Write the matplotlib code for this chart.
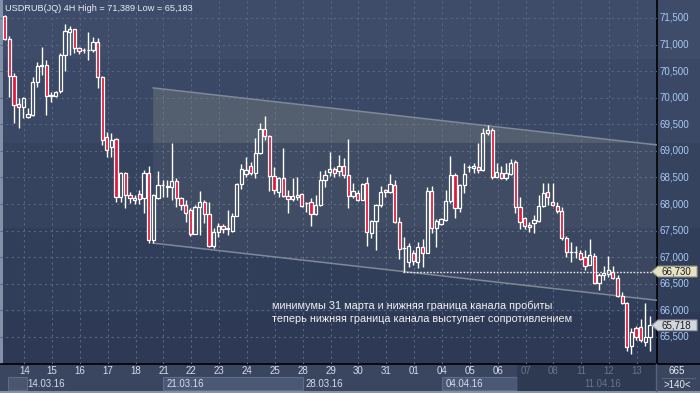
import numpy as np
import matplotlib
matplotlib.use('Agg')
import matplotlib.pyplot as plt
from matplotlib.patches import Rectangle, Polygon
from matplotlib.transforms import blended_transform_factory

# ---------------- data ----------------
opens = [71.537, 71.105, 70.409, 69.883, 69.826, 69.638, 69.676, 70.296, 70.597, 70.616,
         70.052, 70.033, 70.127, 70.804, 71.236, 71.293, 70.936, 70.898, 70.890, 70.898,
         71.048, 70.390, 69.262, 69.074, 69.225, 68.134, 68.586, 68.172, 68.078, 68.191,
         68.116, 68.586, 67.326, 68.116, 68.360, 68.322, 68.322, 68.435, 68.116, 67.984,
         67.890, 67.439, 67.946, 68.040, 67.815, 67.213, 67.476, 67.589, 67.533, 67.495,
         67.777, 68.379, 68.567, 68.717, 68.586, 68.962, 69.413, 69.281, 68.529, 68.228,
         68.492, 68.153, 68.097, 68.134, 68.191, 68.022, 68.040, 67.815, 67.984, 68.454,
         68.604, 68.661, 68.623, 68.717, 68.548, 68.153, 68.210, 68.078, 68.398, 67.458,
         67.683, 67.984, 68.266, 68.228, 68.360, 67.664, 67.176, 66.912, 67.082, 66.912,
         67.194, 67.082, 68.247, 67.552, 67.627, 67.702, 68.059, 68.548, 67.928, 68.360,
         68.698, 68.680, 68.698, 68.642, 69.338, 69.394, 68.510, 68.586, 68.492, 68.567,
         68.792, 67.946, 67.740, 67.608, 67.646, 67.683, 67.965, 68.228, 68.040, 67.965,
         67.871, 67.364, 67.100, 67.100, 67.082, 67.006, 66.856, 67.025, 66.518, 66.668,
         66.687, 66.724, 66.612, 66.273, 66.142, 65.333, 65.672, 65.690, 65.408, 65.502]
highs = [71.560, 71.161, 70.466, 69.996, 70.010, 69.808, 70.390, 70.672, 70.954, 70.710,
         70.108, 70.127, 70.842, 71.389, 71.349, 71.300, 70.954, 70.936, 71.236, 71.142,
         71.124, 70.400, 69.356, 69.338, 69.240, 68.604, 68.604, 68.228, 68.172, 68.266,
         68.642, 68.717, 68.180, 68.623, 68.454, 68.454, 69.150, 68.492, 68.134, 68.078,
         67.928, 67.984, 68.247, 68.078, 68.040, 67.552, 67.646, 67.627, 67.890, 67.834,
         68.398, 68.755, 68.886, 68.792, 69.244, 69.526, 69.657, 69.290, 68.698, 68.500,
         69.056, 68.266, 68.492, 68.510, 68.210, 68.040, 68.116, 68.172, 68.623, 68.642,
         68.980, 68.698, 68.924, 68.868, 69.225, 68.398, 68.266, 68.390, 68.510, 67.700,
         68.003, 68.341, 68.285, 68.567, 68.454, 67.759, 67.382, 67.270, 67.138, 67.288,
         67.345, 68.322, 68.341, 67.721, 67.740, 68.266, 68.905, 68.586, 68.370, 68.774,
         68.736, 68.774, 69.150, 69.432, 69.488, 69.432, 68.774, 68.717, 68.774, 68.849,
         68.830, 68.134, 67.759, 67.664, 67.796, 68.172, 68.398, 68.398, 68.398, 68.040,
         67.946, 67.401, 67.288, 67.213, 67.138, 67.138, 67.345, 67.082, 66.706, 66.837,
         67.025, 66.837, 66.668, 66.348, 66.150, 65.672, 65.709, 65.830, 66.142, 65.897]
lows = [71.086, 70.014, 69.526, 69.432, 69.620, 69.620, 69.660, 70.202, 70.428, 69.676,
        69.920, 70.014, 70.090, 70.503, 70.804, 70.842, 70.823, 70.842, 70.710, 70.860,
        70.184, 69.112, 68.886, 68.886, 68.040, 68.040, 67.928, 68.022, 68.003, 68.003,
        67.834, 67.270, 67.270, 68.100, 68.134, 68.134, 68.078, 67.946, 67.890, 67.664,
        67.401, 67.430, 67.420, 67.646, 67.200, 67.176, 67.382, 67.458, 67.420, 67.480,
        67.770, 68.285, 68.510, 68.548, 68.492, 68.950, 69.206, 68.247, 68.191, 68.134,
        68.134, 67.834, 68.059, 68.078, 67.946, 67.852, 67.589, 67.796, 67.965, 68.322,
        68.529, 68.510, 68.529, 68.492, 67.928, 68.116, 68.059, 68.070, 67.213, 67.364,
        67.138, 67.946, 68.134, 68.210, 67.646, 66.969, 66.730, 66.818, 66.856, 66.800,
        66.818, 67.070, 67.458, 67.194, 67.608, 67.683, 68.022, 67.740, 67.852, 68.210,
        68.604, 68.586, 68.586, 68.630, 69.300, 68.473, 68.492, 68.473, 68.454, 68.548,
        67.834, 67.533, 67.533, 67.476, 67.458, 67.664, 67.946, 67.984, 67.965, 67.834,
        67.326, 67.006, 66.912, 66.988, 66.950, 66.762, 66.850, 66.500, 66.386, 66.575,
        66.630, 66.593, 66.255, 66.123, 65.239, 65.183, 65.446, 65.408, 65.333, 65.239]
closes = [71.105, 70.409, 69.864, 69.826, 69.996, 69.695, 70.296, 70.597, 70.616, 70.033,
          70.040, 70.108, 70.804, 71.255, 71.293, 70.936, 70.879, 70.890, 70.898, 71.048,
          70.390, 69.206, 69.018, 69.206, 68.134, 68.586, 68.172, 68.116, 68.116, 68.097,
          68.586, 67.326, 68.172, 68.360, 68.350, 68.330, 68.435, 68.116, 67.984, 67.834,
          67.439, 67.946, 68.040, 67.815, 67.213, 67.476, 67.589, 67.533, 67.540, 67.777,
          68.379, 68.661, 68.642, 68.586, 68.962, 69.413, 69.281, 68.529, 68.266, 68.492,
          68.153, 68.097, 68.153, 68.172, 67.965, 68.010, 67.815, 67.984, 68.454, 68.548,
          68.661, 68.586, 68.717, 68.548, 68.153, 68.247, 68.078, 68.379, 67.476, 67.683,
          67.984, 68.228, 68.228, 68.379, 67.664, 67.157, 67.170, 67.213, 66.931, 67.194,
          67.082, 68.247, 67.552, 67.683, 67.721, 68.059, 68.548, 67.928, 68.360, 68.567,
          68.690, 68.717, 68.642, 69.338, 69.394, 68.510, 68.604, 68.492, 68.586, 68.774,
          67.946, 67.664, 67.589, 67.570, 67.702, 67.965, 68.210, 68.134, 67.984, 67.871,
          67.364, 67.100, 67.095, 67.105, 66.969, 66.837, 67.044, 66.518, 66.668, 66.706,
          66.762, 66.612, 66.273, 66.142, 65.314, 65.597, 65.502, 65.446, 65.502, 65.718]

day_labels = ['14', '15', '16', '17', '18', '21', '22', '23', '24', '25', '28', '29',
              '30', '31', '01', '04', '05', '06', '07', '08', '11', '12', '13']
week_labels = ['14.03.16', '21.03.16', '28.03.16', '04.04.16', '11.04.16']
bars_per_day = 6
first_day_bar = 5          # bars of 11.03 before the 14.03 session
future_from_day = 18       # labels from "07" on are shown dimmed

price_ticks = [65.5, 66.0, 66.5, 67.0, 67.5, 68.0, 68.5, 69.0, 69.5, 70.0, 70.5, 71.0, 71.5]
title = 'USDRUB(JQ) 4H High = 71,389 Low = 65,183'
low_level = 66.730
last_price = closes[-1]
low_level_bar = 86

# channel drawn by the analyst (bar index, price)
channel_x = [32.0, 140.4]
channel_upper = [70.184, 69.112]
channel_lower = [67.264, 66.190]

note = ('минимумы 31 марта и нижняя граница канала пробиты\n'
        'теперь нижняя граница канала выступает сопротивлением')

# ---------------- figure ----------------
W, H = 700, 393
FONT = ['Liberation Sans', 'DejaVu Sans']
plt.rcParams['font.family'] = FONT
fig = plt.figure(figsize=(W / 100, H / 100), dpi=100)

bg = fig.add_axes([0, 0, 1, 1])
bg.set_xlim(0, W)
bg.set_ylim(H, 0)
bg.set_axis_off()

bands = [(0, 59, '#3e4c69'), (59, 143, '#3a4865'), (143, 228, '#35435f'),
         (228, 312, '#313e5a'), (312, 364, '#2e3a55')]
for y0, y1, c in bands:
    bg.add_patch(Rectangle((0, y0), W, y1 - y0, color=c, lw=0, zorder=0))
# bottom panel
bg.add_patch(Rectangle((0, 364), W, 29, color='#3a4660', lw=0, zorder=0))
bg.add_patch(Rectangle((0, 391), W, 2, color='#8792a6', lw=0, zorder=1))
bg.add_patch(Rectangle((0, 0), 2.5, 364, color='#8391a8', lw=0, zorder=1))
bg.plot([0, W], [363.5, 363.5], color='black', lw=1.2, zorder=5)
bg.plot([656.5, 656.5], [0, 363.5], color='black', lw=1.2, zorder=5)
bg.plot([656, 656], [364, 391], color='#56627c', lw=1, zorder=5)
bg.plot([662, 695], [378, 378], color='#56627c', lw=0.8, zorder=5)
bg.text(677, 371.5, '665', color='#e6eaf2', fontsize=7, ha='center', va='center')
bg.text(677, 385, '>140<', color='#e6eaf2', fontsize=7, ha='center', va='center')

ax = fig.add_axes([0, 1 - 363.5 / H, 656.5 / W, 363.5 / H])
ax.set_facecolor('none')
ax.set_xlim(-1.01, 140.4)
ax.set_ylim(65.0, 71.838)
for s in ax.spines.values():
    s.set_visible(False)

# grid
day_pos = [first_day_bar + bars_per_day * k - 0.8 for k in range(len(day_labels))]
for p in price_ticks:
    ax.axhline(p, color='#59667f', lw=0.8, ls=(0, (2, 3)), zorder=1)
for xp in day_pos:
    ax.axvline(xp, color='#59667f', lw=0.8, ls=(0, (2, 3)), zorder=1)

# channel
poly = Polygon([(channel_x[0], channel_upper[0]), (channel_x[1], channel_upper[1]),
                (channel_x[1], channel_lower[1]), (channel_x[0], channel_lower[0])],
               closed=True, facecolor='#c8c8b0', alpha=0.07, lw=0, zorder=1.5)
ax.add_patch(poly)
poly2 = Polygon([(channel_x[0], channel_upper[0]), (channel_x[1], channel_upper[1]),
                 (channel_x[1], 69.15), (channel_x[0], 69.15)],
                closed=True, facecolor='#8a9080', alpha=0.22, lw=0, zorder=1.5)
ax.add_patch(poly2)
ax.plot(channel_x, channel_upper, color='#7e8899', lw=1.1, zorder=2)
ax.plot(channel_x, channel_lower, color='#7e8899', lw=1.1, zorder=2)

# candles
x = np.arange(len(closes))
o = np.array(opens); h = np.array(highs); l = np.array(lows); c = np.array(closes)
top = np.maximum(o, c); bot = np.minimum(o, c)
up = c >= o
ax.vlines(x, top, h, color='white', lw=1.0, zorder=3)
ax.vlines(x, l, bot, color='white', lw=1.0, zorder=3)
face = np.where(up, 'none', '#e3193b')
ax.bar(x, top - bot, bottom=bot, width=0.7, color=list(face),
       edgecolor='white', linewidth=0.9, zorder=4)

# low level dotted line
trans_px = blended_transform_factory(bg.transData, ax.transData)
ax.plot([low_level_bar - 0.2, 140.4], [low_level, low_level], color='#e8e8e8',
        lw=1.0, ls=(0, (1.2, 1.2)), zorder=5)

# right axis labels
for p in price_ticks:
    ax.text(659, p, f'{p:.3f}'.replace('.', ','), transform=trans_px,
            color='#a9c9f2', fontsize=7, ha='left', va='center', clip_on=False)

def tag(price, fc, ec):
    hh = 0.2
    pts = [(652, price), (658, price + hh / 2), (697, price + hh / 2),
           (697, price - hh / 2), (658, price - hh / 2)]
    fig.add_artist(Polygon(pts, closed=True, transform=trans_px, facecolor=fc,
                           edgecolor=ec, lw=0.8, zorder=10))
    fig.text(661, price, f'{price:.3f}'.replace('.', ','), transform=trans_px,
             color='#1c1c1c', fontsize=7, ha='left', va='center', zorder=11)

tag(low_level, '#e6e2c4', '#a8a690')
tag(last_price, '#d3d7df', '#9aa0aa')

# title and note
ax.text(5, 8.5, title, transform=bg.transData, color='#e8eef8', fontsize=6.6,
        ha='left', va='center')
ax.text(272, 312, note, transform=bg.transData, color='#f2f2f2', fontsize=7.8,
        ha='left', va='center', linespacing=1.4)

# bottom axis: day labels
ax.set_xticks([])
ax.set_yticks([])
trans_dx = blended_transform_factory(ax.transData, bg.transData)
for k, (lab, xp) in enumerate(zip(day_labels, day_pos)):
    col = '#d5dcea' if k < future_from_day else '#66748e'
    ax.text(xp, 371.5, lab, transform=trans_dx, color=col, fontsize=7,
            ha='center', va='center', clip_on=False, zorder=12)

# week boxes (drawn in the background axes, below the texts)
week_day_idx = [0, 5, 10, 15, 20]
bg.add_patch(Rectangle((8, 377), 19, 13, facecolor='#4a5570', edgecolor='#5e6a84',
                       lw=0.8, zorder=2))
for j, (wl, di) in enumerate(zip(week_labels, week_day_idx)):
    xs = day_pos[di]
    if j in (1, 3):
        xe = day_pos[di + 5] if j == 1 else 110.4
        bg.add_patch(Rectangle((xs, 377), xe - xs, 13, transform=trans_dx,
                               facecolor='#4a5775', edgecolor='#5e6c88', lw=0.8, zorder=2))
    col = '#d5dcea' if j < 4 else '#66748e'
    ax.text(xs + 0.7, 384, wl, transform=trans_dx, color=col, fontsize=7,
            ha='left', va='center', clip_on=False, zorder=12)

# dimmed future region of the bottom axis
bg.add_patch(Rectangle((110.4, 364.5), 140.4 - 110.4, 26.5, transform=trans_dx,
                       facecolor='#26314a', alpha=0.6, lw=0, zorder=3))

fig.savefig('out.png', dpi=100)
